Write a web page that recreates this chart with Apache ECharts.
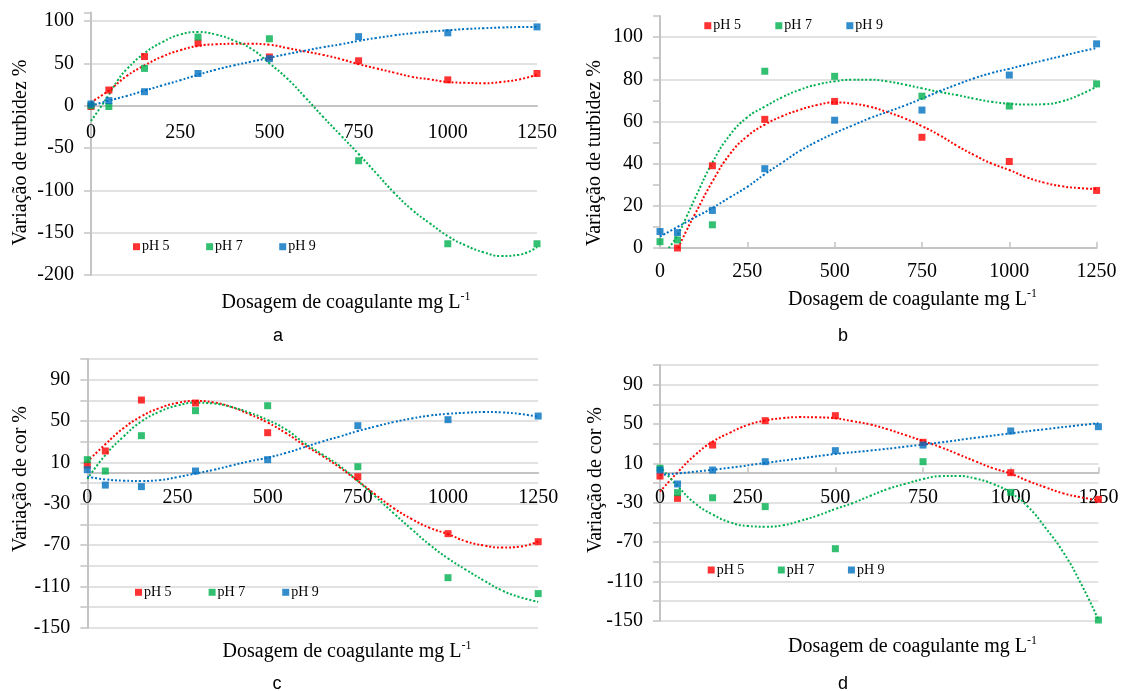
<!DOCTYPE html>
<html><head><meta charset="utf-8">
<script src="https://cdn.jsdelivr.net/npm/echarts@6/dist/echarts.min.js"></script>
<style>html,body{margin:0;padding:0;background:#fff}#c{width:1123px;height:691px}</style>
</head><body><div id="c"></div>
<script>
// ---- data ----
const doses = [0, 50, 150, 300, 500, 750, 1000, 1250];
const seriesNames = ['pH 5', 'pH 7', 'pH 9'];

// panel a : Variação de turbidez %
const a_pH5 = [-1, 18.5, 58, 74, 57.5, 53, 30.5, 38];
const a_pH7 = [0, -1, 44, 81, 79, -65, -163, -163];
const a_pH9 = [2, 6, 16.5, 38, 55.5, 81.5, 86, 93];
// panel b : Variação de turbidez %
const b_pH5 = [null, 0, 39, 61, 69.5, 52.5, 41, 27.3];
const b_pH7 = [3, 3.8, 11, 83.8, 81.4, 72, 67.3, 77.8];
const b_pH9 = [7.8, 7.3, 17.8, 37.6, 60.6, 65.4, 82, 96.8];
// panel c : Variação de cor %
const c_pH5 = [7.4, 21, 70.3, 67.4, 38.7, -3.9, -59, -66.8];
const c_pH7 = [12.6, 1.6, 35.8, 60, 64.8, 5.8, -101.6, -117];
const c_pH9 = [2.9, -12, -13.5, 1.6, 12.6, 45.5, 51.3, 54.8];
// panel d : Variação de cor %
const d_pH5 = [-2.9, -25.6, 28.6, 53.4, 58.5, 31.4, 0.5, -26.6];
const d_pH7 = [5, -19.8, -25, -34, -76.8, 11.7, -19.5, -149.3];
const d_pH9 = [3.2, -11, 3.2, 11.7, 22.9, 28.6, 42.9, 47.3];

// trendlines [dose, value]
const a_trend5 = [[0,4],[50,18],[100,35],[150,47.5],[200,58],[250,65.5],[300,70.5],[350,72.5],[400,73],[450,73],[500,72],[550,68],[600,64],[650,60],[700,55],[750,49],[800,44],[850,39],[900,34],[950,31],[1000,28],[1050,27],[1100,26.5],[1150,28],[1200,31],[1250,36.5]];
const a_trend7 = [[0,-18],[25,-3],[50,13],[75,30],[100,43],[150,62],[200,75],[250,84],[300,87],[350,84],[400,77],[450,67],[500,50],[550,32],[600,10],[650,-13],[700,-35],[750,-57],[800,-80],[850,-103],[900,-123],[950,-139],[1000,-154],[1050,-165],[1100,-173],[1150,-177.5],[1200,-176],[1250,-167]];
const a_trend9 = [[0,0],[50,6],[100,11.5],[150,17.8],[200,24],[250,30],[300,36.5],[350,42.5],[400,47.5],[450,52],[500,56.5],[550,61],[600,65],[650,69],[700,72.5],[750,76.5],[800,80],[850,83],[900,85.5],[950,87.5],[1000,89],[1050,90.5],[1100,91.5],[1150,92.3],[1200,92.8],[1250,93]];

const b_trend5 = [[52,0],[75,8],[100,16],[150,31.5],[200,44.5],[250,53],[300,58.5],[350,62.5],[400,65.5],[450,67.8],[500,69],[550,68.5],[600,67],[650,64.5],[700,61.5],[750,57.8],[800,53.5],[850,48.5],[900,44],[950,40],[1000,37],[1050,33.5],[1100,31],[1150,29.3],[1200,28.4],[1250,28]];
const b_trend7 = [[25,0],[50,6],[75,14.5],[100,23.5],[150,40.5],[200,53.5],[250,62],[300,67],[350,71.5],[400,75],[450,77.5],[500,79],[550,79.8],[600,79.8],[650,79],[700,77.5],[750,75.7],[800,74],[850,72.5],[900,70.8],[950,69.3],[1000,68.4],[1050,68],[1100,68.2],[1150,69.5],[1200,72.5],[1250,76.5]];
const b_trend9 = [[0,5.4],[50,10],[100,14.5],[150,19],[200,24],[250,29],[300,35],[350,40.5],[400,46],[450,50.5],[500,54.5],[550,58],[600,61.5],[650,64.5],[700,67.5],[750,70.8],[800,74.3],[850,77.5],[900,80.5],[950,83],[1000,85],[1050,87],[1100,89],[1150,91],[1200,93],[1250,94.8]];

const c_trend5 = [[0,10.6],[50,27.5],[100,43],[150,54.5],[200,62.5],[250,67.5],[300,69.4],[350,68],[400,63.5],[450,56.5],[500,48.5],[550,38.5],[600,27],[650,16.5],[700,5],[750,-8],[800,-21.5],[850,-34.5],[900,-45],[950,-53.5],[1000,-59.5],[1050,-66.5],[1100,-70.5],[1150,-72.5],[1200,-71.5],[1250,-66.8]];
const c_trend7 = [[0,-6],[50,17],[100,34.8],[150,49.5],[200,59],[250,65],[300,67.7],[350,67],[400,63.5],[450,58],[500,51],[550,42],[600,29],[650,18],[700,6.5],[750,-8],[800,-23.5],[850,-39.5],[900,-55],[950,-70],[1000,-83],[1050,-94],[1100,-104.5],[1150,-114],[1200,-120.5],[1250,-125]];
const c_trend9 = [[0,-3.9],[50,-6.5],[100,-7.7],[150,-8],[200,-7.2],[250,-4.3],[300,-0.8],[350,2.7],[400,7],[450,11],[500,14.5],[550,19],[600,24.5],[650,30],[700,35],[750,40.3],[800,44.8],[850,49],[900,52.5],[950,55.3],[1000,57],[1050,58],[1100,58.7],[1150,58.3],[1200,56.8],[1250,54.2]];

const d_trend5 = [[0,-18.8],[50,0.8],[100,18.5],[150,32],[200,41.3],[250,49],[300,53.5],[350,56],[400,57],[450,56.8],[500,55.8],[550,52.8],[600,49.5],[650,44.5],[700,38.7],[750,32.7],[800,26.5],[850,19.3],[900,12],[950,5],[1000,-0.5],[1050,-8],[1100,-14.5],[1150,-20.5],[1200,-24.5],[1250,-27.5]];
const d_trend7 = [[0,6.6],[50,-13],[100,-30.7],[150,-42],[200,-50],[250,-53.7],[300,-54.4],[350,-53],[400,-48.5],[450,-43],[500,-36.4],[550,-30.3],[600,-23],[650,-16],[700,-10.8],[750,-6],[800,-3],[850,-2.8],[900,-5.5],[950,-11],[1000,-20],[1050,-34.4],[1100,-56],[1150,-80.5],[1200,-112],[1250,-149]];
const d_trend9 = [[0,-1.9],[100,1.5],[200,5.6],[300,10.4],[400,15],[500,19.5],[600,23],[700,27],[800,31.3],[900,36],[1000,40.6],[1100,44.8],[1200,48.9],[1250,50.7]];

const yTitleTurb = 'Variação de turbidez %';
const yTitleCor = 'Variação de cor %';
const xTitle = 'Dosagem de coagulante mg L';
const xTitleSup = '-1';
const panelLetters = ['a', 'b', 'c', 'd'];

// ---- styling / layout ----
const colors = ['#FF0000', '#00B050', '#0070C0'];
const SERIF = 'Liberation Serif';
const gridCol = '#d9d9d9';
const axisCol = '#c4c4c4';

const panels = [
  { points: [a_pH5, a_pH7, a_pH9], trends: [a_trend5, a_trend7, a_trend9],
    grid: {left: 91, top: 12.5, width: 446, height: 262.6},
    y: {min: -200, max: 110, interval: 50, show: v => v <= 100, showMaxLine: false},
    xMargin: 17, xTickInside: false,
    legend: {left: 133, cy: 246.7, gap: 36.5},
    yTitle: [yTitleTurb, 20.5, 152.5], xTitle: [346, 303], letter: [278, 336] },
  { points: [b_pH5, b_pH7, b_pH9], trends: [b_trend5, b_trend7, b_trend9],
    grid: {left: 660, top: 16, width: 436.6, height: 232},
    y: {min: 0, max: 110, interval: 10, show: v => v % 20 === 0 && v <= 100, showMaxLine: false, alt: true},
    xMargin: 13.5, xTickInside: true,
    legend: {left: 704.3, cy: 25.7, gap: 34.4},
    yTitle: [yTitleTurb, 595, 153], xTitle: [912.5, 300], letter: [843, 336] },
  { points: [c_pH5, c_pH7, c_pH9], trends: [c_trend5, c_trend7, c_trend9],
    grid: {left: 87.3, top: 359, width: 450.9, height: 268.7},
    y: {min: -150, max: 110, interval: 20, show: v => (v + 150) % 40 === 0, showMaxLine: true},
    xMargin: 15.5, xTickInside: false,
    legend: {left: 135, cy: 592.3, gap: 37},
    yTitle: [yTitleCor, 20.5, 479], xTitle: [347, 651.7], letter: [277, 684] },
  { points: [d_pH5, d_pH7, d_pH9], trends: [d_trend5, d_trend7, d_trend9],
    grid: {left: 660, top: 365, width: 438.4, height: 255.7},
    y: {min: -150, max: 110, interval: 20, show: v => (v + 150) % 40 === 0, showMaxLine: true},
    xMargin: 15, xTickInside: true,
    legend: {left: 707.7, cy: 570, gap: 33.5},
    yTitle: [yTitleCor, 596, 480], xTitle: [912.5, 646.7], letter: [843, 684] }
];

const option = {
  backgroundColor: '#fff',
  animation: false,
  grid: [], xAxis: [], yAxis: [], series: [], legend: [], graphic: []
};

panels.forEach((p, pi) => {
  option.grid.push(Object.assign({containLabel: false}, p.grid));
  // place the x axis (line, ticks, labels) at y = 0, like the original
  const zeroOffset = -(0 - p.y.min) / (p.y.max - p.y.min) * p.grid.height;
  option.xAxis.push({
    type: 'value', gridIndex: pi, min: 0, max: 1250, interval: 250,
    position: 'bottom', offset: zeroOffset,
    axisLine: {show: true, onZero: false, lineStyle: {color: axisCol, width: 2}},
    axisTick: {show: p.xTickInside, inside: true, length: 6, lineStyle: {color: axisCol, width: 1.5}},
    axisLabel: {margin: p.xMargin, fontFamily: SERIF, fontSize: 20, color: '#000',
      showMinLabel: true, showMaxLabel: true, formatter: v => String(v)},
    splitLine: {show: false}
  });
  option.yAxis.push({
    type: 'value', gridIndex: pi, min: p.y.min, max: p.y.max, interval: p.y.interval,
    axisLine: {show: true, onZero: false, lineStyle: {color: axisCol, width: 2}},
    axisTick: {show: true, inside: false, length: 7, lineStyle: {color: axisCol, width: 1.5}},
    axisLabel: {margin: 17, fontFamily: SERIF, fontSize: 20, color: '#000',
      formatter: v => p.y.show(v) ? String(v) : ''},
    splitLine: {show: true, showMinLine: true, showMaxLine: p.y.showMaxLine,
      lineStyle: {color: p.y.alt ? [gridCol, 'rgba(0,0,0,0)'] : gridCol, width: 1.5}}
  });
  p.trends.forEach((t, si) => {
    option.series.push({
      type: 'line', name: 'trend ' + seriesNames[si], xAxisIndex: pi, yAxisIndex: pi,
      data: t, smooth: true, showSymbol: false, silent: true, z: 2, clip: true,
      lineStyle: {color: colors[si], width: 2, type: [2, 2]}
    });
  });
  p.points.forEach((vals, si) => {
    const data = [];
    doses.forEach((d, i) => { if (vals[i] !== null) data.push([d, vals[i]]); });
    option.series.push({
      type: 'scatter', name: seriesNames[si], xAxisIndex: pi, yAxisIndex: pi,
      data, symbol: 'rect', symbolSize: 7, z: 3, clip: true,
      itemStyle: {color: colors[si]}
    });
  });
  option.legend.push({
    data: seriesNames, left: p.legend.left, top: p.legend.cy - 7, padding: 0,
    orient: 'horizontal', itemWidth: 7, itemHeight: 7, itemGap: p.legend.gap,
    icon: 'rect', selectedMode: false,
    textStyle: {fontFamily: SERIF, fontSize: 14, color: '#000', padding: [0, 0, 0, -3]}
  });
  option.graphic.push({
    type: 'text', x: p.yTitle[1], y: p.yTitle[2], rotation: Math.PI / 2, silent: true,
    style: {text: p.yTitle[0], x: 0, y: 0, align: 'center', verticalAlign: 'middle',
      fontFamily: SERIF, fontSize: 20, fill: '#000'}
  });
  option.graphic.push({
    type: 'text', x: p.xTitle[0], y: p.xTitle[1], silent: true,
    style: {text: '{m|' + xTitle + '}{s|' + xTitleSup + '}', x: 0, y: 0, align: 'center', verticalAlign: 'middle',
      fontFamily: SERIF, fontSize: 20, fill: '#000',
      rich: {m: {fontFamily: SERIF, fontSize: 20, fill: '#000', lineHeight: 24},
             s: {fontFamily: SERIF, fontSize: 12, fill: '#000', verticalAlign: 'top', lineHeight: 12}}}
  });
  option.graphic.push({
    type: 'text', x: p.letter[0], y: p.letter[1], silent: true,
    style: {text: panelLetters[pi], x: 0, y: 0, align: 'center', verticalAlign: 'middle',
      fontFamily: 'Liberation Sans', fontSize: 18, fill: '#000'}
  });
});

const chart = echarts.init(document.getElementById('c'), null, {renderer: 'canvas'});
chart.setOption(option);
</script>
</body></html>
